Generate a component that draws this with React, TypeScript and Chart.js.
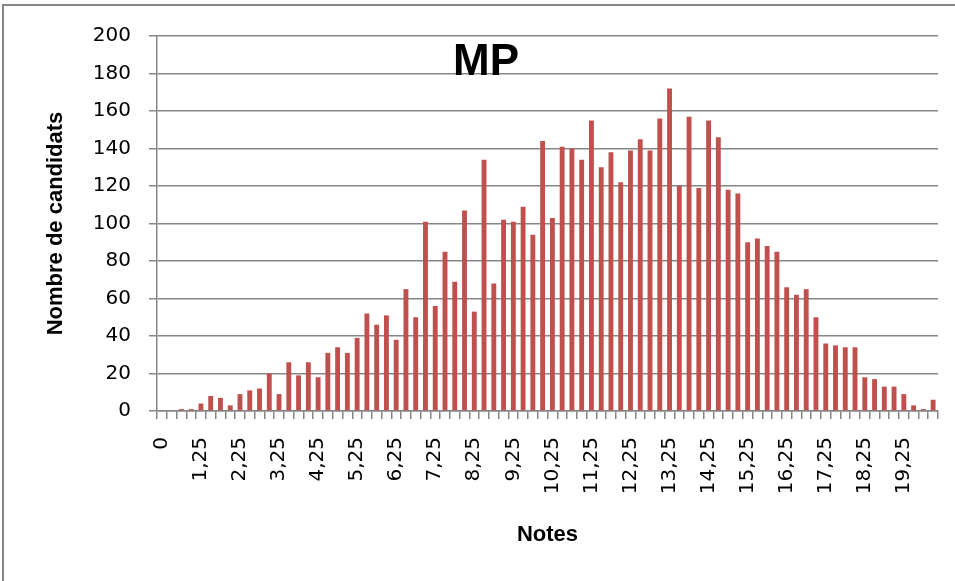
import React, { useEffect, useRef } from "react";
import { Chart, registerables } from "chart.js";

Chart.register(...registerables);

const categories: string[] = [
  "0", "0,5", "0,75", "1", "1,25", "1,5", "1,75", "2", "2,25", "2,5", "2,75", "3",
  "3,25", "3,5", "3,75", "4", "4,25", "4,5", "4,75", "5", "5,25", "5,5", "5,75", "6",
  "6,25", "6,5", "6,75", "7", "7,25", "7,5", "7,75", "8", "8,25", "8,5", "8,75", "9",
  "9,25", "9,5", "9,75", "10", "10,25", "10,5", "10,75", "11", "11,25", "11,5", "11,75", "12",
  "12,25", "12,5", "12,75", "13", "13,25", "13,5", "13,75", "14", "14,25", "14,5", "14,75", "15",
  "15,25", "15,5", "15,75", "16", "16,25", "16,5", "16,75", "17", "17,25", "17,5", "17,75", "18",
  "18,25", "18,5", "18,75", "19", "19,25", "19,5", "19,75", "20",
];

const candidats: number[] = [
  0, 0, 1, 1, 4, 8, 7, 3, 9, 11, 12, 20,
  9, 26, 19, 26, 18, 31, 34, 31, 39, 52, 46, 51,
  38, 65, 50, 101, 56, 85, 69, 107, 53, 134, 68, 102,
  101, 109, 94, 144, 103, 141, 140, 134, 155, 130, 138, 122,
  139, 145, 139, 156, 172, 120, 157, 119, 155, 146, 118, 116,
  90, 92, 88, 85, 66, 62, 65, 50, 36, 35, 34, 34,
  18, 17, 13, 13, 9, 3, 1, 6,
];

const yTicks: number[] = [0, 20, 40, 60, 80, 100, 120, 140, 160, 180, 200];

const chartTitle = "MP";
const xTitle = "Notes";
const yTitle = "Nombre de candidats";

const GRID = "#868686";

export default function App() {
  const ref = useRef<HTMLCanvasElement | null>(null);

  useEffect(() => {
    if (!ref.current) return;
    const decor = {
      id: "decor",
      beforeDraw(chart: any) {
        const ctx = chart.ctx;
        ctx.save();
        ctx.fillStyle = "#ffffff";
        ctx.fillRect(0, 0, chart.width, chart.height);
        ctx.strokeStyle = GRID;
        ctx.lineWidth = 2;
        ctx.strokeRect(3, 5, 1100, 1100);
        ctx.restore();
      },
      afterDraw(chart: any) {
        const ctx = chart.ctx;
        ctx.save();
        ctx.fillStyle = "#000000";
        ctx.font = "bold 44px 'Liberation Sans', Arial, sans-serif";
        ctx.textAlign = "center";
        ctx.textBaseline = "alphabetic";
        ctx.fillText(chartTitle, 486, 75);
        ctx.restore();
      },
    };

    const chart = new Chart(ref.current, {
      type: "bar",
      data: {
        labels: categories,
        datasets: [
          {
            data: candidats,
            backgroundColor: "#C0504D",
            borderWidth: 0,
            categoryPercentage: 1,
            barPercentage: 0.5,
          },
        ],
      },
      plugins: [decor],
      options: {
        responsive: false,
        animation: false,
        events: [],
        layout: { padding: { left: 0, right: 17, top: 36, bottom: 0 } },
        plugins: {
          legend: { display: false },
          tooltip: { enabled: false },
          title: { display: false },
        },
        scales: {
          x: {
            offset: true,
            grid: {
              offset: true,
              drawOnChartArea: false,
              drawTicks: true,
              tickLength: 8,
              color: GRID,
              lineWidth: 1.5,
            },
            border: { display: true, color: GRID, width: 1.5 },
            ticks: {
              autoSkip: false,
              maxRotation: 90,
              minRotation: 90,
              padding: 18,
              color: "#000000",
              font: { family: "'DejaVu Sans', sans-serif", size: 20 },
              callback: (_v: any, i: number) => (i % 4 === 0 ? categories[i] : ""),
            },
            title: {
              display: true,
              text: xTitle,
              color: "#000000",
              font: { family: "'Liberation Sans', Arial, sans-serif", size: 22, weight: "bold" },
              padding: { top: 0, bottom: 33 },
            },
            afterFit: (scale: any) => {
              scale.height = 170;
              scale.paddingLeft = 0;
              scale.paddingRight = 0;
            },
          },
          y: {
            min: 0,
            max: 200,
            afterBuildTicks: (scale: any) => {
              scale.ticks = yTicks.map((v) => ({ value: v }));
            },
            grid: {
              color: GRID,
              lineWidth: 1.5,
              drawTicks: true,
              tickLength: 8,
            },
            border: { display: true, color: GRID, width: 1.5 },
            ticks: {
              padding: 18,
              color: "#000000",
              font: { family: "'DejaVu Sans', sans-serif", size: 20 },
            },
            title: {
              display: true,
              text: yTitle,
              color: "#000000",
              font: { family: "'Liberation Sans', Arial, sans-serif", size: 22, weight: "bold" },
              padding: { top: 43, bottom: 0 },
            },
            afterFit: (scale: any) => {
              scale.width = 157;
              scale.paddingTop = 0;
              scale.paddingBottom = 0;
            },
          },
        },
      },
    } as any);
    return () => chart.destroy();
  }, []);

  return (
    <div style={{ position: "fixed", left: 0, top: 0, width: 955, height: 581, overflow: "hidden", background: "#fff" }}>
      <canvas ref={ref} width={955} height={581} style={{ width: 955, height: 581, display: "block" }} />
    </div>
  );
}
